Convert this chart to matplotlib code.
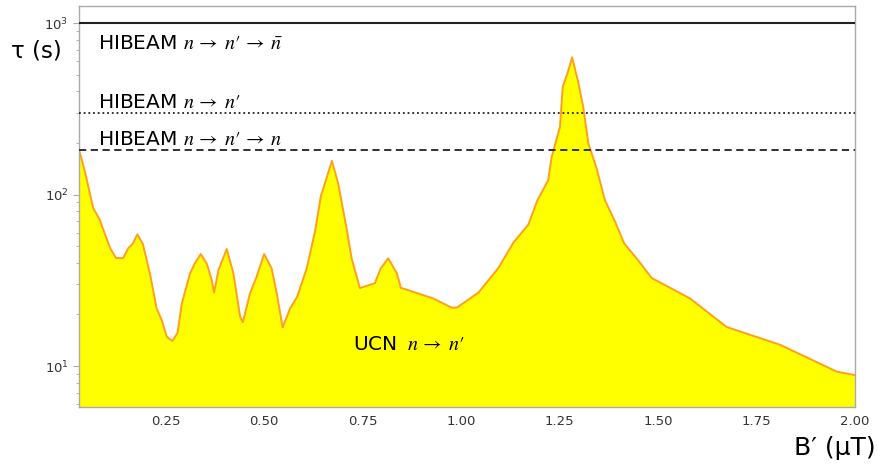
import numpy as np
import matplotlib.pyplot as plt

plt.rcParams['mathtext.fontset'] = 'stix'

# UCN n -> n' lifetime limit vs. mirror field B'
b_field = [0.030, 0.045, 0.066, 0.082, 0.109, 0.124, 0.142, 0.155, 0.166, 0.178,
           0.192, 0.210, 0.227, 0.240, 0.253, 0.267, 0.280, 0.291, 0.312, 0.324,
           0.339, 0.354, 0.367, 0.373, 0.384, 0.405, 0.422, 0.439, 0.446, 0.464,
           0.481, 0.500, 0.519, 0.532, 0.547, 0.566, 0.584, 0.608, 0.629, 0.644,
           0.672, 0.688, 0.710, 0.722, 0.743, 0.781, 0.796, 0.815, 0.837, 0.847,
           0.929, 0.976, 0.989, 1.044, 1.095, 1.133, 1.171, 1.194, 1.221, 1.230,
           1.251, 1.258, 1.270, 1.282, 1.298, 1.310, 1.323, 1.344, 1.365, 1.391,
           1.414, 1.450, 1.484, 1.581, 1.674, 1.810, 1.954, 2.000]
tau_ucn = [182, 136, 83.5, 71.7, 48.7, 42.6, 42.6, 48.7, 51.5, 58.6,
           51.5, 34.7, 21.7, 18.5, 14.8, 14.0, 15.6, 23.2, 34.7, 39.7,
           45.0, 39.7, 31.7, 26.8, 36.3, 48.1, 34.7, 19.4, 18.0, 26.5,
           33.2, 45.0, 37.1, 26.5, 16.8, 21.7, 25.4, 37.1, 60.7, 98.0,
           157, 116, 62.1, 42.5, 28.5, 30.4, 37.1, 42.5, 34.7, 28.6,
           24.8, 21.9, 21.9, 26.8, 37.4, 52.5, 66.9, 92.9, 121, 166,
           248, 425, 509, 631, 445, 325, 199, 142, 92.9, 69.4,
           51.9, 41.2, 32.6, 24.8, 16.9, 13.3, 9.27, 8.86]

# HIBEAM sensitivities (s)
hibeam_nnbar = 1000
hibeam_nnp = 300
hibeam_regen = 181

x_lim = (0.03, 2.0)
y_lim = (5.77, 1257)

fig = plt.figure(figsize=(8.77, 4.69), dpi=100)
ax = fig.add_axes([0.0901, 0.1322, 0.8848, 0.855])

ax.fill_between(b_field, tau_ucn, y_lim[0], facecolor='#ffff00',
                edgecolor='none', zorder=1)
ax.plot(b_field, tau_ucn, color='#ff9f1c', lw=1.4, zorder=2)

ax.axhline(hibeam_nnbar, color='#222222', lw=1.5, ls='-', zorder=3)
ax.axhline(hibeam_nnp, color='#222222', lw=1.3, ls=(0, (1, 1.6)), zorder=3)
ax.axhline(hibeam_regen, color='#222222', lw=1.3, ls=(0, (4, 2.5)), zorder=3)

ax.set_yscale('log')
ax.set_xlim(*x_lim)
ax.set_ylim(*y_lim)
ax.set_xticks([0.25, 0.50, 0.75, 1.00, 1.25, 1.50, 1.75, 2.00])
ax.set_xticklabels(['0.25', '0.50', '0.75', '1.00', '1.25', '1.50', '1.75', '2.00'])

for side in ax.spines.values():
    side.set_color('#aaaaaa')
    side.set_linewidth(1.0)
ax.tick_params(axis='x', length=0, labelsize=9.5, labelcolor='#333333', pad=6)
ax.tick_params(axis='y', which='major', length=4, color='#aaaaaa',
               labelsize=9.5, labelcolor='#333333')
ax.tick_params(axis='y', which='minor', length=2, color='#aaaaaa')

fs = 14.5
arrow = r'\,\rightarrow\;'
np_ = 'n\u2032'  # n-prime
ax.text(0.078, 760, r'HIBEAM $n' + arrow + np_ + arrow + r'\bar{n}$',
        fontsize=fs, va='center', ha='left', zorder=4)
ax.text(0.078, 342, r'HIBEAM $n' + arrow + np_ + '$',
        fontsize=fs, va='center', ha='left', zorder=4)
ax.text(0.078, 208, r'HIBEAM $n' + arrow + np_ + arrow + r'n$',
        fontsize=fs, va='center', ha='left', zorder=4)
ax.text(0.726, 13.3, r'UCN $\;n' + arrow + np_ + '$',
        fontsize=fs, va='center', ha='left', zorder=4)

fig.text(0.013, 0.892, 'τ (s)', fontsize=16.5, ha='left', va='center')
fig.text(0.998, 0.045, 'B′ (μT)', fontsize=18, ha='right', va='center')

fig.savefig('out.png', dpi=100)
